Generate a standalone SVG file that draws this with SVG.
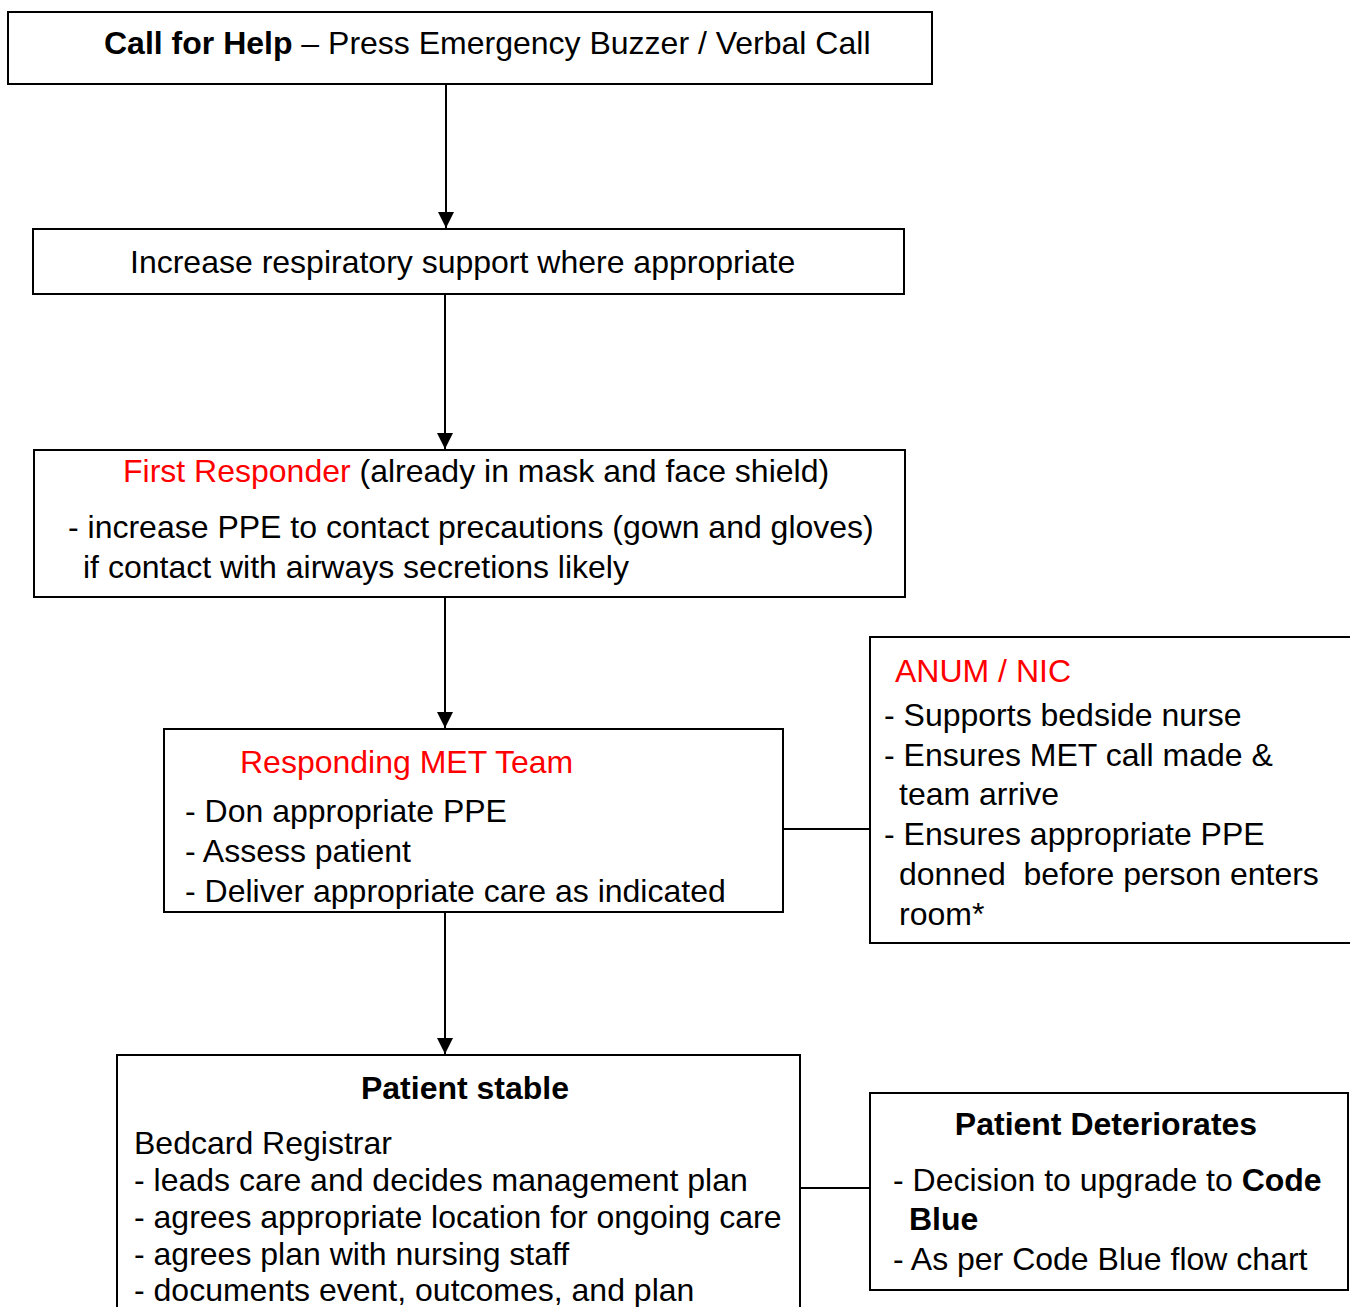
<svg xmlns="http://www.w3.org/2000/svg" width="1350" height="1307" viewBox="0 0 1350 1307">
<defs>
<style>
.box{fill:#fff;stroke:#000;stroke-width:2}
.t{font-family:"Liberation Sans",Arial,sans-serif;font-size:32px;fill:#000}
.b{font-weight:bold}
.r{fill:#ff0000}
.c{stroke:#000;stroke-width:2;fill:none}
</style>
<marker id="ah" viewBox="0 0 10 10" refX="10" refY="5" markerWidth="16" markerHeight="16" markerUnits="userSpaceOnUse" orient="auto">
<path d="M0,0 L10,5 L0,10 z" fill="#000"/>
</marker>
</defs>
<rect width="1350" height="1307" fill="#fff"/>
<g id="connectors">
<line class="c" x1="446" y1="84" x2="446" y2="228" marker-end="url(#ah)"/>
<line class="c" x1="445" y1="294" x2="445" y2="449" marker-end="url(#ah)"/>
<line class="c" x1="445" y1="597" x2="445" y2="728" marker-end="url(#ah)"/>
<line class="c" x1="445" y1="912" x2="445" y2="1054" marker-end="url(#ah)"/>
<line class="c" x1="783" y1="829" x2="870" y2="829"/>
<line class="c" x1="800" y1="1188" x2="870" y2="1188"/>
</g>
<g id="n-call">
<rect class="box" x="8" y="12" width="924" height="72"/>
<text class="t" x="104" y="54"><tspan class="b">Call for Help</tspan> – Press Emergency Buzzer / Verbal Call</text>
</g>
<g id="n-resp">
<rect class="box" x="33" y="229" width="871" height="65"/>
<text class="t" x="130" y="273">Increase respiratory support where appropriate</text>
</g>
<g id="n-first">
<rect class="box" x="34" y="450" width="871" height="147"/>
<text class="t" x="123" y="482"><tspan class="r">First Responder</tspan> (already in mask and face shield)</text>
<text class="t" x="68" y="538">- increase PPE to contact precautions (gown and gloves)</text>
<text class="t" x="83" y="578">if contact with airways secretions likely</text>
</g>
<g id="n-met">
<rect class="box" x="164" y="729" width="619" height="183"/>
<text class="t r" x="240" y="773">Responding MET Team</text>
<text class="t" x="185" y="822">- Don appropriate PPE</text>
<text class="t" x="185" y="862">- Assess patient</text>
<text class="t" x="185" y="902">- Deliver appropriate care as indicated</text>
</g>
<g id="n-anum">
<rect class="box" x="870" y="637" width="482" height="306"/>
<text class="t r" x="895" y="682">ANUM / NIC</text>
<text class="t" x="884" y="726">- Supports bedside nurse</text>
<text class="t" x="884" y="766">- Ensures MET call made &amp;</text>
<text class="t" x="899" y="805">team arrive</text>
<text class="t" x="884" y="845">- Ensures appropriate PPE</text>
<text class="t" x="899" y="885" xml:space="preserve">donned  before person enters</text>
<text class="t" x="899" y="925">room*</text>
</g>
<g id="n-stable">
<rect class="box" x="117" y="1055" width="683" height="260"/>
<text class="t b" x="465" y="1099" text-anchor="middle">Patient stable</text>
<text class="t" x="134" y="1154">Bedcard Registrar</text>
<text class="t" x="134" y="1191">- leads care and decides management plan</text>
<text class="t" x="134" y="1228">- agrees appropriate location for ongoing care</text>
<text class="t" x="134" y="1265">- agrees plan with nursing staff</text>
<text class="t" x="134" y="1301">- documents event, outcomes, and plan</text>
</g>
<g id="n-det">
<rect class="box" x="870" y="1093" width="478" height="197"/>
<text class="t b" x="1106" y="1135" text-anchor="middle">Patient Deteriorates</text>
<text class="t" x="893" y="1191">- Decision to upgrade to <tspan class="b">Code</tspan></text>
<text class="t b" x="909" y="1230">Blue</text>
<text class="t" x="893" y="1270">- As per Code Blue flow chart</text>
</g>
</svg>
